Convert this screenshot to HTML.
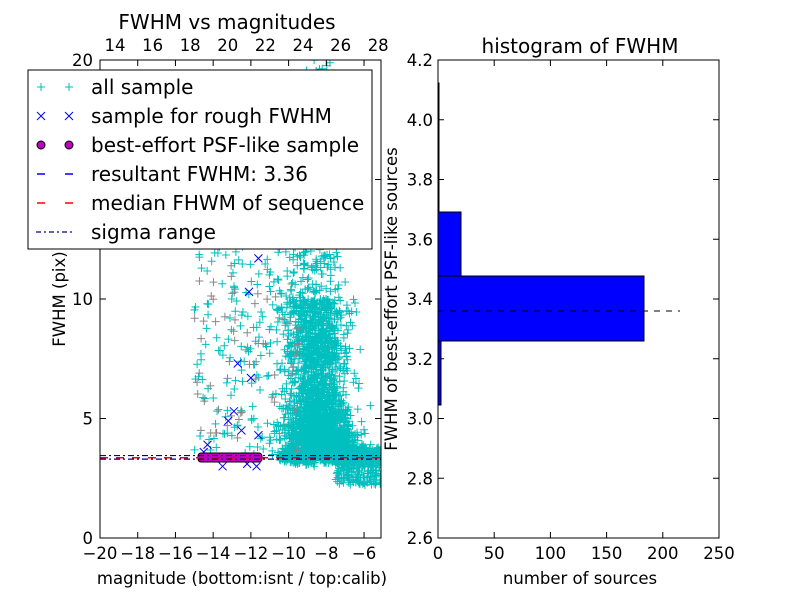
<!DOCTYPE html>
<html><head><meta charset="utf-8"><style>
body{margin:0;background:#fff}
svg text{font-family:"DejaVu Sans","Liberation Sans",sans-serif;fill:#000}
</style></head><body>
<svg id="s" width="800" height="600" xmlns="http://www.w3.org/2000/svg">
<rect width="800" height="600" fill="#fff"/>
<defs><clipPath id="c"><rect x="100" y="60" width="281" height="478"/></clipPath></defs>
<g id="pts" clip-path="url(#c)"></g>
<rect x="100" y="60" width="281" height="478" fill="none" stroke="#000"/>
<g font-size="16.5" id="ax"></g>
<text x="227" y="29" font-size="20" text-anchor="middle">FWHM vs magnitudes</text>
<text x="242" y="584" font-size="16.5" text-anchor="middle">magnitude (bottom:isnt / top:calib)</text>
<text transform="translate(65,299) rotate(-90)" font-size="16.5" text-anchor="middle">FWHM (pix)</text>
<rect x="28" y="70" width="344" height="179" fill="#fff" stroke="#000"/>
<g font-size="20">
<text x="91" y="94">all sample</text>
<text x="91" y="123">sample for rough FWHM</text>
<text x="91" y="152">best-effort PSF-like sample</text>
<text x="91" y="181">resultant FWHM: 3.36</text>
<text x="91" y="210">median FHWM of sequence</text>
<text x="91" y="239">sigma range</text>
</g>
<g stroke="#00bfbf"><path d="M37 87h8M41 83v8M65 87h8M69 83v8"/></g>
<g stroke="#00f"><path d="M37 112l8 8M45 112l-8 8M65 112l8 8M73 112l-8 8"/></g>
<circle cx="41" cy="145" r="4" fill="#bf00bf" stroke="#000"/><circle cx="69" cy="145" r="4" fill="#bf00bf" stroke="#000"/>
<path d="M37 174h8M65 174h8" stroke="#00f" stroke-width="1.5"/>
<path d="M37 203h8M65 203h8" stroke="#f00" stroke-width="1.5"/>
<path d="M36 232h5M44 232h2M49 232h5M57 232h2M62 232h5M70 232h2" stroke="#00008b" stroke-width="1.3"/>
<rect x="438" y="276" width="206" height="65" fill="#00f" stroke="#000"/>
<rect x="438" y="212" width="23" height="64" fill="#00f" stroke="#000"/>
<rect x="438" y="341" width="3" height="64" fill="#00f" stroke="#000"/>
<rect x="438" y="83" width="1" height="129" fill="#00f" stroke="#000"/>
<line x1="438" y1="311" x2="680" y2="311" stroke="#000" stroke-dasharray="6,6"/>
<rect x="438" y="60" width="281" height="478" fill="none" stroke="#000"/>
<text x="580" y="53" font-size="20" text-anchor="middle">histogram of FWHM</text>
<text x="580" y="584" font-size="16.5" text-anchor="middle">number of sources</text>
<text transform="translate(397,299) rotate(-90)" font-size="16.5" text-anchor="middle">FWHM of best-effort PSF-like sources</text>
</svg>
<script>
var NS="http://www.w3.org/2000/svg",s=1;
function r(){s=(s*16807)%2147483647;return (s-1)/2147483646}
function g(){return (r()+r()+r()+r()-2)*1.7}
function X(m){return 100+(m+20)*18.86}function Y(f){return 538-f*23.9}
var h="",h2="";
function plus(x,y){h+="M"+(x-4)+" "+y+"h8M"+x+" "+(y-4)+"v8"}
for(var i=0;i<2500;i++){var t=r(),f;
 if(t<0.45)f=3.3+Math.abs(g())*1.3;else if(t<0.85)f=4+r()*6;else f=7+r()*8;
 var m=-8.4+g()*0.8*(1+Math.max(0,6-f)*0.12)-(f-6)*0.05; plus(X(m),Y(f));}
for(i=0;i<500;i++){plus(X(-10.5+r()*5.5),Y(3.4+g()*0.15));}
for(i=0;i<250;i++){plus(X(-7.5+r()*2.5),Y(2.2+r()*1.6));}
for(i=0;i<180;i++){plus(X(-15+r()*5.5),Y(3.5+r()*9));}
for(i=0;i<80;i++){plus(X(-8.6+g()*0.5),Y(12+r()*8));}
for(i=0;i<60;i++){var x=X(-15+r()*5.5),y=Y(3.5+r()*8);h2+="M"+(x-4)+" "+y+"h8M"+x+" "+(y-4)+"v8"}
var p=document.createElementNS(NS,"path");p.setAttribute("d",h);p.setAttribute("stroke","#00bfbf");p.setAttribute("fill","none");
var G=document.getElementById("pts");G.appendChild(p);
var p3=document.createElementNS(NS,"path");p3.setAttribute("d",h2);p3.setAttribute("stroke","#888");G.appendChild(p3);
var bx="",bl=[[-14.3,3.9],[-13.2,4.9],[-12.7,7.3],[-12.0,6.7],[-12.1,10.3],[-11.6,11.7],[-12.5,4.5],[-12.9,5.3],[-11.6,4.3],[-14.5,3.6],[-13.5,3.0],[-12.2,3.1],[-11.7,3.0]];
bl.forEach(function(q){var x=X(q[0]),y=Y(q[1]);bx+="M"+(x-4)+" "+(y-4)+"l8 8M"+(x+4)+" "+(y-4)+"l-8 8"});
var p2=document.createElementNS(NS,"path");p2.setAttribute("d",bx);p2.setAttribute("stroke","#00f");G.appendChild(p2);
var rr=document.createElementNS(NS,"rect");[["x",198],["y",453],["width",64],["height",9],["rx",3],["fill","#bf00bf"],["stroke","#000"]].forEach(function(a){rr.setAttribute(a[0],a[1])});G.appendChild(rr);
function ln(y,c,d,w){var l=document.createElementNS(NS,"line");l.setAttribute("x1",100);l.setAttribute("x2",381);l.setAttribute("y1",y);l.setAttribute("y2",y);l.setAttribute("stroke",c);l.setAttribute("stroke-dasharray",d);l.setAttribute("stroke-width",w);G.appendChild(l)}
ln(Y(3.45),"#00008b","6,3,2,3",1.2);ln(Y(3.3),"#00008b","6,3,2,3",1.2);ln(Y(3.36),"#00f","8,8",1.5);ln(Y(3.36),"#f00","8,8",1.5);
var ax=document.getElementById("ax"),a="";
function tx(x,y,t,an){a+='<text x="'+x+'" y="'+y+'" text-anchor="'+(an||"middle")+'">'+t+'</text>'}
for(var v=-20;v<=-6;v+=2){var x=X(v);a+='<path d="M'+x+' 538v-6M'+x+' 60v6" stroke="#000"/>';tx(x,559,"\u2212"+(-v));}
for(v=14;v<=28;v+=2){var x=115+(v-14)*18.8;tx(x,51,v)}
for(v=0;v<=20;v+=5){var y=Y(v);a+='<path d="M100 '+y+'h6M381 '+y+'h-6" stroke="#000"/>';tx(93,y+6,v,"end")}
for(v=0;v<=250;v+=50){var x=438+v*1.124;a+='<path d="M'+x+' 538v-6M'+x+' 60v6" stroke="#000"/>';tx(x,559,v)}
for(v=0;v<=8;v++){var y=538-v*59.75;a+='<path d="M438 '+y+'h6M719 '+y+'h-6" stroke="#000"/>';tx(433,y+6,(2.6+v*0.2).toFixed(1),"end")}
ax.innerHTML=a;
</script>
</body></html>
